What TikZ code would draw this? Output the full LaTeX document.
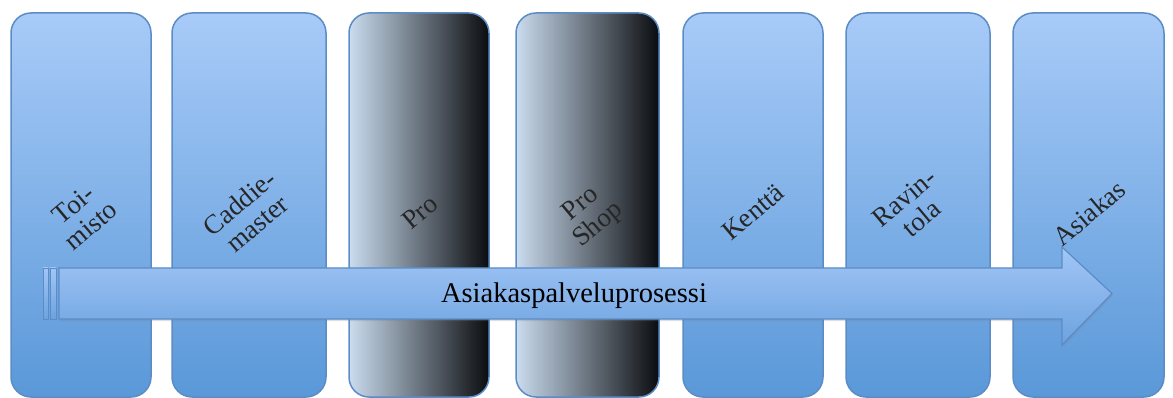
\documentclass[tikz,border=0pt]{standalone}
\usepackage{fontspec}
\setmainfont{Liberation Serif}
\usetikzlibrary{shadows}
\definecolor{laneTop}{HTML}{A8CBF8}
\definecolor{laneBot}{HTML}{5A98D8}
\definecolor{laneEdge}{HTML}{5B8CC6}
\definecolor{darkLeft}{HTML}{CADCEF}
\definecolor{darkRight}{HTML}{0A0C0F}
\definecolor{arrTop}{HTML}{A2C6F6}
\definecolor{arrBot}{HTML}{6CA2DF}
\begin{document}
\begin{tikzpicture}[x=1pt,y=-1pt,
  lane/.style={draw=laneEdge, line width=1.5pt, rounded corners=20pt,
    minimum height=384pt, inner sep=0pt, top color=laneTop, bottom color=laneBot},
  darklane/.style={lane, left color=darkLeft, right color=darkRight},
  lanelabel/.style={rotate=40, align=center, text=black!85, inner sep=0pt,
    font=\fontsize{27}{27}\selectfont},
  arrowbody/.style={draw=laneEdge, line width=1.2pt, top color=arrTop, bottom color=arrBot},
  stripe/.style={draw=laneEdge, line width=0.8pt, top color=arrTop, bottom color=arrBot}
]
\useasboundingbox (0,0) rectangle (1173,398);

% swim lanes
\node[lane, minimum width=140pt] (toimisto) at (81,205) {};
\node[lane, minimum width=154pt] (caddie) at (249,205) {};
\node[darklane, minimum width=140pt] (pro) at (419,205) {};
\node[darklane, minimum width=143pt] (proshop) at (587.5,205) {};
\node[lane, minimum width=140pt] (kentta) at (753,205) {};
\node[lane, minimum width=144pt] (ravintola) at (918,205) {};
\node[lane, minimum width=151pt] (asiakas) at (1088.5,205) {};

% lane titles
\node[lanelabel] (ltoimisto) at (82,215) {Toi-\\misto};
\node[lanelabel] (lcaddie) at (248,213) {Caddie-\\master};
\node[lanelabel] (lpro) at (420,212) {Pro};
\node[lanelabel] (lproshop) at (590,215) {Pro\\Shop};
\node[lanelabel] (lkentta) at (753,212) {Kenttä};
\node[lanelabel] (lravintola) at (913,208) {Ravin-\\tola};
\node[lanelabel] (lasiakas) at (1089,213) {Asiakas};

% process arrow with striped tail
\draw[stripe] (43,268) rectangle (48,319);
\draw[stripe] (50,268) rectangle (56,319);
\draw[arrowbody, drop shadow={opacity=0.25, shadow xshift=1pt, shadow yshift=-2pt}]
  (59,268) -- (1062,268) -- (1062,247) -- (1112,293.5) -- (1062,345)
  -- (1062,319) -- (59,319) -- cycle;
\node[font=\fontsize{28.5}{30}\selectfont] (process) at (574,296) {Asiakaspalveluprosessi};
\end{tikzpicture}
\end{document}
